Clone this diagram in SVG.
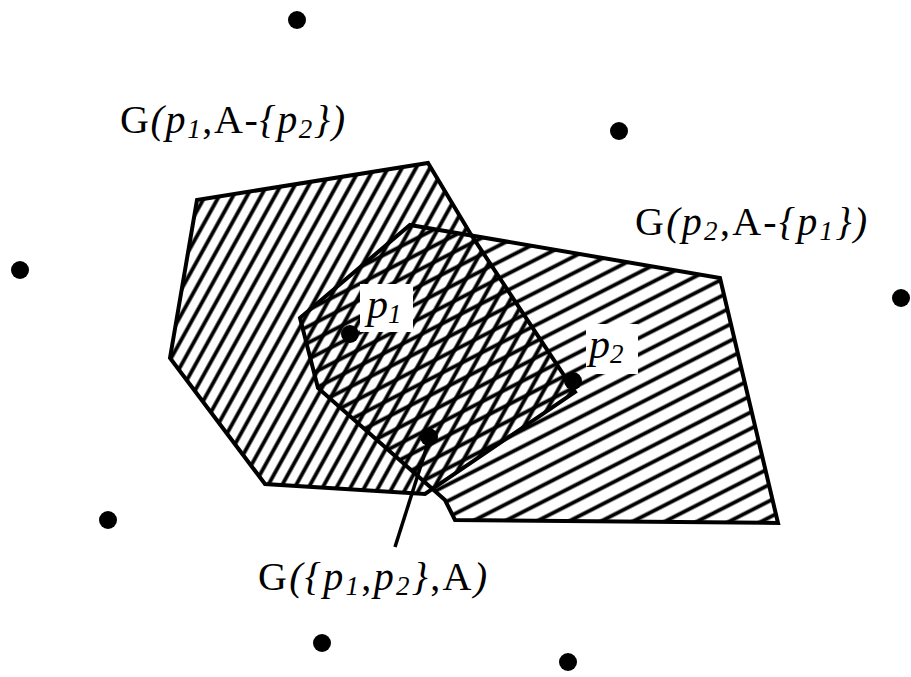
<svg xmlns="http://www.w3.org/2000/svg" width="911" height="677" viewBox="0 0 911 677">
<style>
.outline{fill:none;stroke:#000;stroke-width:4;stroke-linejoin:miter}
.dot{fill:#000}
.lbl{font-family:"Liberation Serif","Times New Roman",serif;font-size:40px;fill:#000}
.it{font-style:italic}
.sub{font-size:27px;font-style:italic}
.conn{stroke:#000;stroke-width:3.5;fill:none}
</style>
<defs>
<pattern id="hatchA" patternUnits="userSpaceOnUse" width="20" height="12.2" patternTransform="rotate(-61)">
<rect x="0" y="4.2" width="20" height="3.8" fill="#000"/>
</pattern>
<pattern id="hatchB" patternUnits="userSpaceOnUse" width="20" height="14.6" patternTransform="rotate(-27)">
<rect x="0" y="5.4" width="20" height="3.8" fill="#000"/>
</pattern>
</defs>
<rect width="911" height="677" fill="#fff"/>

<g id="region-p1">
<polygon points="197,200 428,163 470,233 575,392 425,494 265,484 170,358" fill="url(#hatchA)"/>
</g>
<g id="region-p2">
<polygon points="410,225 720,278 778,523 455,520 445,500 318,388 300,318" fill="url(#hatchB)"/>
</g>
<g id="outlines">
<polygon class="outline" points="197,200 428,163 470,233 575,392 425,494 265,484 170,358"/>
<polygon class="outline" points="410,225 720,278 778,523 455,520 445,500 318,388 300,318"/>
</g>

<g id="label-boxes" fill="#fff">
<rect x="360" y="284" width="53" height="48"/>
<rect x="586" y="324" width="52" height="50"/>
</g>

<g id="connectors">
<line class="conn" x1="395" y1="547" x2="429" y2="440"/>
</g>

<g id="points">
<circle id="pt-top" class="dot" cx="297" cy="20" r="9"/>
<circle id="pt-upper-right" class="dot" cx="619" cy="131" r="9"/>
<circle id="pt-left" class="dot" cx="20" cy="270" r="9"/>
<circle id="pt-right" class="dot" cx="901" cy="298" r="9"/>
<circle id="pt-lower-left" class="dot" cx="108" cy="520" r="9"/>
<circle id="pt-bottom-left" class="dot" cx="322" cy="643" r="9"/>
<circle id="pt-bottom-right" class="dot" cx="568" cy="662" r="9"/>
<circle id="pt-p1" class="dot" cx="350" cy="334" r="9"/>
<circle id="pt-p2" class="dot" cx="573" cy="381" r="9"/>
<circle id="pt-inner" class="dot" cx="429" cy="437" r="9"/>
</g>

<g id="labels">
<text class="lbl" x="120" y="133" textLength="225" lengthAdjust="spacing">G<tspan class="it">(p</tspan><tspan class="sub" dy="5">1</tspan><tspan dy="-5">,A-</tspan><tspan class="it">{p</tspan><tspan class="sub" dy="5">2</tspan><tspan class="it" dy="-5">})</tspan></text>
<text class="lbl" x="635" y="235" textLength="232" lengthAdjust="spacing">G<tspan class="it">(p</tspan><tspan class="sub" dy="5">2</tspan><tspan dy="-5">,A-</tspan><tspan class="it">{p</tspan><tspan class="sub" dy="5">1</tspan><tspan class="it" dy="-5">})</tspan></text>
<text class="lbl" x="258" y="590" textLength="229" lengthAdjust="spacing">G<tspan class="it">({p</tspan><tspan class="sub" dy="5">1</tspan><tspan dy="-5">,</tspan><tspan class="it">p</tspan><tspan class="sub" dy="5">2</tspan><tspan class="it" dy="-5">}</tspan>,A<tspan class="it">)</tspan></text>
<text class="lbl it" x="367" y="318" style="font-size:42px">p<tspan class="sub" dy="5">1</tspan></text>
<text class="lbl it" x="589" y="358" style="font-size:42px">p<tspan class="sub" dy="5">2</tspan></text>
</g>
</svg>
